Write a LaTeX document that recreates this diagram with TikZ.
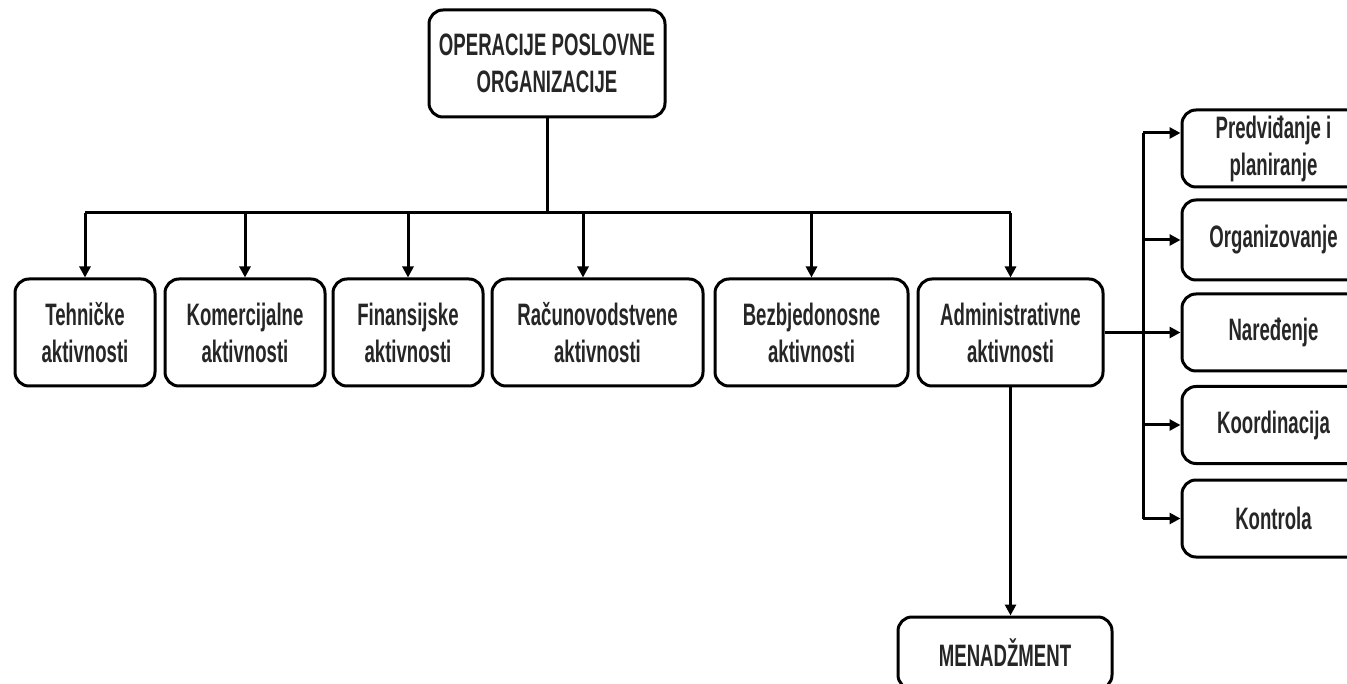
\documentclass[tikz,border=0pt]{standalone}
\usepackage{fontspec}
\newfontfamily\boxfont[FakeStretch=0.6]{Liberation Sans}
\usetikzlibrary{arrows.meta,positioning}
\tikzset{
  box/.style={draw, line width=3pt, rounded corners=14pt, align=center, inner sep=0pt,
    text=black!85, font=\boxfont\bfseries\fontsize{31}{37}\selectfont},
  link/.style={line width=3pt},
  arr/.style={line width=3pt, -{Triangle[length=11pt,width=11pt]}}
}

\begin{document}
\begin{tikzpicture}[x=1pt,y=-1pt]
\useasboundingbox (0,0) rectangle (1347,684);

% Vrh
\node[box, minimum width=236pt, minimum height=107pt] (top) at (547,63.5) {OPERACIJE POSLOVNE\\ORGANIZACIJE};

% Aktivnosti
\node[box, minimum width=140pt, minimum height=107pt] (teh) at (85,332.5) {Tehničke\\aktivnosti};
\node[box, minimum width=160pt, minimum height=107pt] (kom) at (245,332.5) {Komercijalne\\aktivnosti};
\node[box, minimum width=150pt, minimum height=107pt] (fin) at (408,332.5) {Finansijske\\aktivnosti};
\node[box, minimum width=211pt, minimum height=107pt] (rac) at (597.5,332.5) {Računovodstvene\\aktivnosti};
\node[box, minimum width=193pt, minimum height=107pt] (bez) at (811.5,332.5) {Bezbjedonosne\\aktivnosti};
\node[box, minimum width=185pt, minimum height=107pt] (adm) at (1010.5,332.5) {Administrativne\\aktivnosti};

% Funkcije menadzmenta
\node[box, minimum width=183pt, minimum height=77pt] (pred) at (1273.5,148.5) {Predviđanje i\\planiranje};
\node[box, minimum width=183pt, minimum height=80pt] (org) at (1273.5,240) {Organizovanje};
\node[box, minimum width=183pt, minimum height=77pt] (nar) at (1273.5,332.5) {Naređenje};
\node[box, minimum width=183pt, minimum height=77pt] (koo) at (1273.5,425) {Koordinacija};
\node[box, minimum width=183pt, minimum height=77pt] (kon) at (1273.5,518.5) {Kontrola};

\node[box, minimum width=214pt, minimum height=72pt] (men) at (1005,653) {MENADŽMENT};

% Veze
\coordinate (bus) at (0,213);
\coordinate (racin) at (583,0);
\coordinate (spine) at (1143,0);
\coordinate (predin) at ([yshift=15.5pt]pred.west);

\draw[link] (top) -- (top |- bus);
\draw[link] (teh.north |- bus) -- (adm.north |- bus);
\draw[arr] (teh.north |- bus) -- (teh.north);
\draw[arr] (kom.north |- bus) -- (kom.north);
\draw[arr] (fin.north |- bus) -- (fin.north);
\draw[arr] (racin |- bus) -- (racin |- rac.north);
\draw[arr] (bez.north |- bus) -- (bez.north);
\draw[arr] (adm.north |- bus) -- (adm.north);

\draw[arr] (adm.east) -- (nar.west);
\draw[link] (spine |- predin) -- (spine |- kon.west);
\draw[arr] (spine |- predin) -- (predin);
\draw[arr] (spine |- org.west) -- (org.west);
\draw[arr] (spine |- koo.west) -- (koo.west);
\draw[arr] (spine |- kon.west) -- (kon.west);

\draw[arr] (adm.south) -- (adm.south |- men.north);
\end{tikzpicture}
\end{document}
